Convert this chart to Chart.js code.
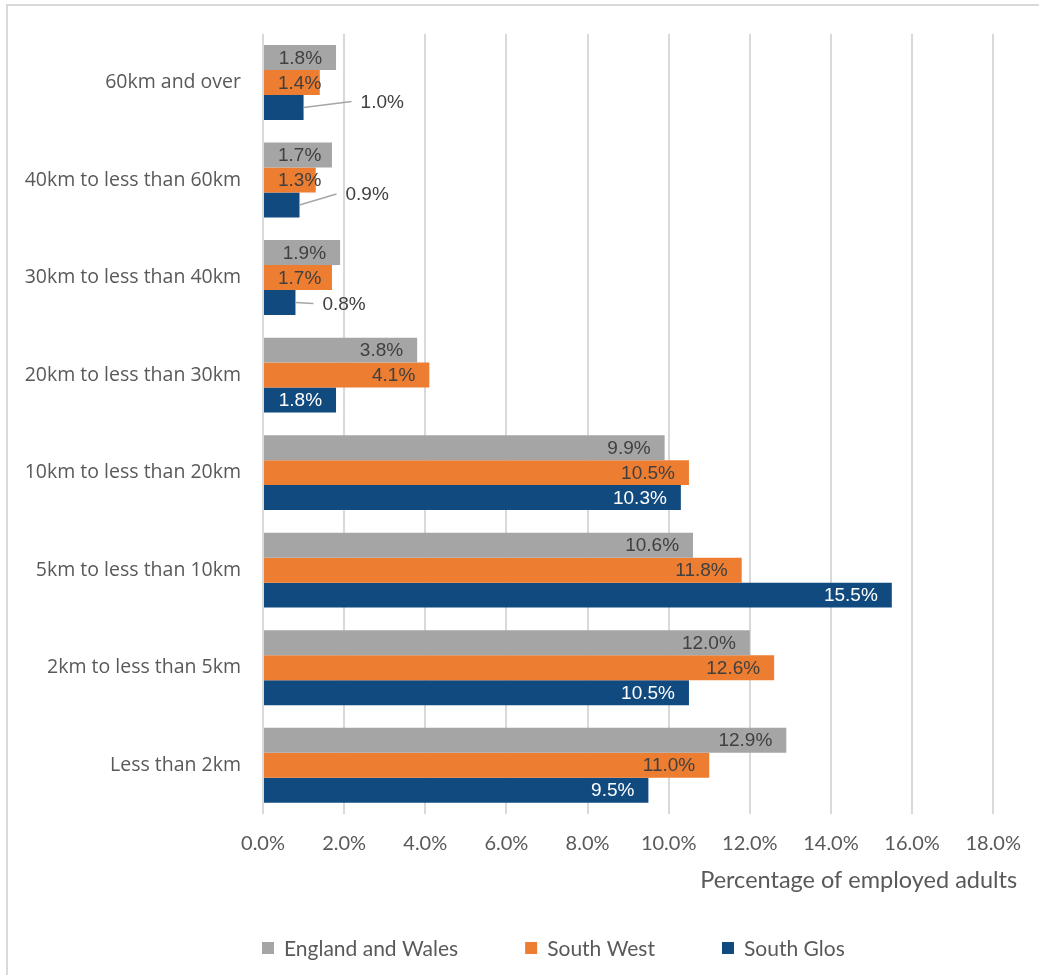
<!DOCTYPE html>
<html>
<head>
<meta charset="utf-8">
<script src="https://cdn.jsdelivr.net/npm/chart.js@4"></script>
<style>
    html, body { margin: 0; padding: 0; background: #fff; }
    #frame {
        position: absolute; left: 6px; top: 4px; width: 1100px; height: 1100px;
        border-top: 2px solid #d9d9d9; border-left: 2px solid #d9d9d9;
    }
    #wrap { position: absolute; left: 0; top: 0; width: 1039px; height: 975px; }
</style>
</head>
<body>
<div id="frame"></div>
<div id="wrap"><canvas id="distanceChart"></canvas></div>
<script>
// فاصله تا محل کار - distance travelled to work
const categories = [
    '60km and over',
    '40km to less than 60km',
    '30km to less than 40km',
    '20km to less than 30km',
    '10km to less than 20km',
    '5km to less than 10km',
    '2km to less than 5km',
    'Less than 2km'
];
const englandWales = [1.8, 1.7, 1.9, 3.8, 9.9, 10.6, 12.0, 12.9];
const southWest = [1.4, 1.3, 1.7, 4.1, 10.5, 11.8, 12.6, 11.0];
const southGlos = [1.0, 0.9, 0.8, 1.8, 10.3, 15.5, 10.5, 9.5];
const xTicks = [0, 2, 4, 6, 8, 10, 12, 14, 16, 18];

// labels that sit outside the bar, with a leader line (offset from bar end)
const leaderOffsets = [[57, -6], [46, -11], [27, 1]];

const softFont = 'Lato, "Liberation Sans", Arial, sans-serif';

// برچسب داده‌ها
const barLabels = {
    id: 'barLabels',
    afterDatasetsDraw(chart) {
        const ctx = chart.ctx;
        ctx.save();
        ctx.font = '19px "Liberation Sans", Arial, sans-serif';
        ctx.textBaseline = 'middle';
        chart.data.datasets.forEach((ds, i) => {
            const meta = chart.getDatasetMeta(i);
            meta.data.forEach((bar, j) => {
                const txt = ds.data[j].toFixed(1) + '%';
                const w = ctx.measureText(txt).width;
                const lead = i === 2 ? leaderOffsets[j] : null;
                if (lead) {
                    const lx = bar.x + lead[0];
                    const ly = bar.y + lead[1];
                    ctx.strokeStyle = '#a6a6a6';
                    ctx.lineWidth = 1.5;
                    ctx.beginPath();
                    ctx.moveTo(bar.x, bar.y);
                    ctx.lineTo(lx - 9, ly);
                    ctx.stroke();
                    ctx.fillStyle = '#404040';
                    ctx.textAlign = 'left';
                    ctx.fillText(txt, lx, ly + 1);
                } else {
                    const right = Math.max(bar.x - 14, bar.base + 14 + w);
                    ctx.fillStyle = i === 2 ? '#ffffff' : '#404040';
                    ctx.textAlign = 'right';
                    ctx.fillText(txt, right, bar.y + 1);
                }
            });
        });
        ctx.restore();
    }
};

// عنوان محور و راهنما
const extras = {
    id: 'extras',
    afterDraw(chart) {
        const ctx = chart.ctx;
        const area = chart.chartArea;
        ctx.save();
        ctx.fillStyle = '#595959';
        ctx.textBaseline = 'middle';
        ctx.font = '23.5px ' + softFont;
        ctx.textAlign = 'right';
        ctx.fillText('Percentage of employed adults', area.right + 24, 880);

        ctx.font = '21px ' + softFont;
        ctx.textAlign = 'left';
        let x = area.left - 1;
        const y = 948;
        chart.data.datasets.forEach(ds => {
            ctx.fillStyle = ds.backgroundColor;
            ctx.fillRect(x, y - 6, 12, 12);
            ctx.fillStyle = '#595959';
            ctx.fillText(ds.label, x + 22, y + 1);
            x += 22 + ctx.measureText(ds.label).width + 67;
        });
        ctx.restore();
    }
};

const distanceChart = new Chart(
    document.getElementById('distanceChart'),
    {
        type: 'bar',
        data: {
            labels: categories,
            datasets: [
                { label: 'England and Wales', data: englandWales, backgroundColor: '#a5a5a5' },
                { label: 'South West', data: southWest, backgroundColor: '#ed7d31' },
                { label: 'South Glos', data: southGlos, backgroundColor: '#114a7e' }
            ]
        },
        options: {
            indexAxis: 'y',
            responsive: true,
            maintainAspectRatio: false,
            animation: false,
            barPercentage: 1,
            categoryPercentage: 0.768,
            layout: { padding: { top: 33, right: 36, left: 0, bottom: 0 } },
            plugins: {
                legend: { display: false },
                tooltip: { enabled: false }
            },
            scales: {
                x: {
                    min: 0,
                    max: 18,
                    afterBuildTicks: scale => { scale.ticks = xTicks.map(v => ({ value: v })); },
                    afterFit: scale => { scale.height = 161; },
                    grid: { color: '#d9d9d9', lineWidth: 2, drawTicks: false },
                    border: { display: false },
                    ticks: {
                        padding: 18,
                        color: '#595959',
                        font: { family: softFont, size: 20 },
                        callback: v => v.toFixed(1) + '%'
                    }
                },
                y: {
                    afterFit: scale => { scale.width = 263; },
                    grid: { display: false, drawTicks: false },
                    border: { display: false },
                    ticks: {
                        padding: 22,
                        color: '#595959',
                        font: { family: '"Open Sans", sans-serif', size: 19.5 }
                    }
                }
            }
        },
        plugins: [barLabels, extras]
    }
);
</script>
</body>
</html>
